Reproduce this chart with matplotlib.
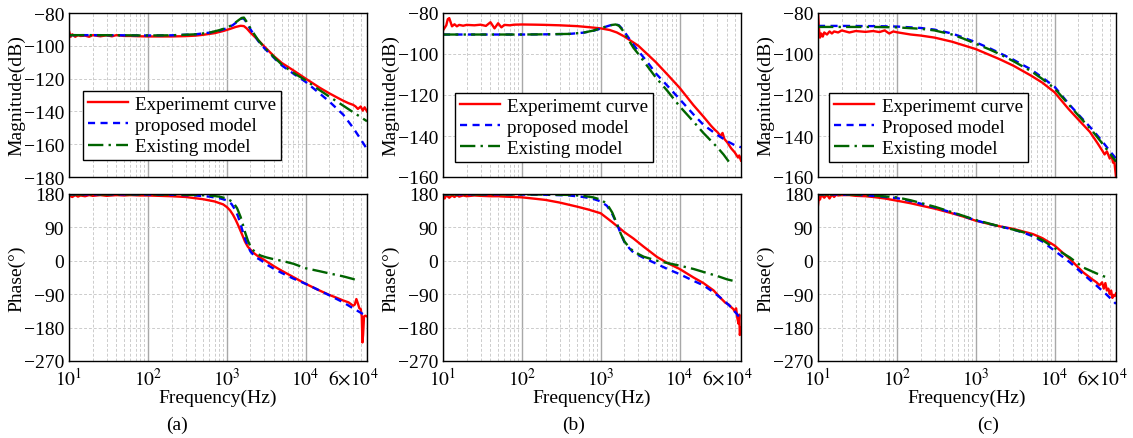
import numpy as np
import matplotlib
matplotlib.use('Agg')
import matplotlib.pyplot as plt
from matplotlib.ticker import FixedLocator, FixedFormatter, LogLocator, NullFormatter
import matplotlib.transforms as mtrans

plt.rcParams['font.family'] = ['Liberation Serif', 'DejaVu Serif']
plt.rcParams['mathtext.fontset'] = 'stix'
plt.rcParams['font.size'] = 14

# ---------------- panel (a) ----------------
fa_exp_mag = [10, 10.5, 11, 12, 13, 14, 16, 18, 20, 25, 30, 35, 40, 50, 60, 80, 100, 150, 200, 300,
              400, 500, 700, 900, 1100, 1300, 1500, 1650, 1800, 2000, 2500, 3000, 4000, 5000, 7000,
              10000, 15000, 20000, 25000, 30000, 35000, 40000, 43000, 46000, 50000, 53000, 56000, 60000]
a_exp_mag = [-91, -94.5, -93, -94.5, -93.5, -94, -93.8, -94.5, -93.5, -94.2, -93.6, -94.2, -93.5, -94,
             -94, -94.2, -94.3, -94.3, -94.3, -94.1, -93.8, -93.3, -92.3, -91, -89.7, -88.5, -87.8,
             -88, -89.5, -92, -96.5, -100.5, -106.5, -110.5, -115, -120, -125.5, -129, -131.5,
             -133.5, -135, -136, -137, -138.5, -137, -139.5, -137.5, -140]
fa_mod_mag = [10, 20, 50, 100, 200, 400, 600, 800, 1000, 1200, 1400, 1550, 1650, 1800, 2000, 2500,
              3000, 4000, 5000, 7000, 10000, 15000, 20000, 30000, 40000, 50000, 60000]
a_prop_mag = [-93.5, -93.5, -93.6, -93.7, -93.6, -93, -92, -90.8, -89.3, -87.3, -84.8, -83.3, -83.5,
              -86, -90, -97, -101.5, -107.5, -112, -117, -122, -129, -134, -142, -150, -157, -163]
a_exist_mag = [-93.5, -93.5, -93.6, -93.7, -93.6, -93, -92, -90.5, -89, -87, -84.5, -83, -82.8,
               -85.5, -89.5, -96.5, -101, -107, -111.5, -116.5, -121, -127, -131, -136.5, -140.5,
               -143.5, -146]

fa_exp_ph = [10, 11, 12, 13, 14, 16, 18, 20, 25, 30, 40, 50, 60, 80, 100, 200, 300, 500, 700, 900,
             1000, 1100, 1200, 1300, 1400, 1500, 1600, 1700, 1850, 2000, 2200, 2500, 3000, 4000,
             5000, 7000, 10000, 15000, 20000, 25000, 30000, 35000, 40000, 42000, 44000, 46000,
             48000, 50000, 51500, 52500, 53500, 55000, 57000, 60000]
a_exp_ph = [176, 172, 177, 173, 176, 174, 177, 175, 177, 175, 177, 176, 177, 176, 176, 174, 172, 166,
            160, 152, 145, 136, 124, 110, 95, 80, 66, 52, 38, 30, 21, 12, 2, -15, -27, -44, -62, -80,
            -92, -100, -107, -112, -121, -118, -103, -115, -128, -130, -150, -220, -200, -150, -148,
            -150]
fa_prop_ph = [10, 50, 100, 200, 400, 600, 800, 1000, 1150, 1300, 1400, 1500, 1600, 1700, 1850, 2000,
              2300, 2700, 3200, 4000, 5000, 7000, 10000, 15000, 20000, 30000, 40000, 50000, 60000]
a_prop_ph = [179, 179, 178.5, 178, 176, 173, 169, 163, 153, 135, 118, 98, 78, 60, 40, 25, 10, 2,
             -10, -22, -33, -48, -62, -80, -93, -112, -128, -140, -150]
fa_exist_ph = [10, 50, 100, 200, 400, 600, 800, 1000, 1200, 1350, 1500, 1600, 1700, 1850, 2000,
               2300, 2700, 3200, 4000, 5000, 7000, 10000, 15000, 20000, 30000, 40000, 46000]
a_exist_ph = [179, 179, 179, 178.5, 177.5, 176, 173, 168, 158, 142, 118, 98, 78, 55, 38, 22, 14, 9,
              4, 0, -8, -20, -28, -34, -42, -49, -54]

# ---------------- panel (b) ----------------
fb_exp_mag = [10, 11, 11.5, 12, 12.5, 13, 14, 15, 16, 18, 20, 25, 30, 35, 40, 45, 50, 55, 60, 70,
              80, 100, 150, 200, 300, 500, 700, 1000, 1300, 1600, 2000, 2500, 3000, 4000, 5000,
              7000, 10000, 15000, 20000, 25000, 28000, 30000, 33000, 35000, 37000, 40000, 45000,
              50000, 55000, 57000, 60000]
b_exp_mag = [-88.5, -86, -83, -82.5, -84.5, -86.5, -85.5, -86.5, -85.8, -86.2, -85.8, -86, -85.7,
             -86.3, -84.5, -87.5, -85, -87, -85.8, -86, -85.7, -85.6, -85.7, -85.8, -86, -86.4,
             -86.9, -87.5, -88.3, -89.5, -91.5, -94, -96, -100.5, -104, -110, -116.5, -125,
             -130.5, -135, -137, -138, -140, -138.5, -141.5, -143, -146, -148, -150.5, -149.5,
             -152]
fb_prop_mag = [10, 50, 100, 200, 400, 600, 800, 1000, 1200, 1400, 1550, 1700, 1900, 2200, 2600,
               3000, 4000, 5000, 7000, 10000, 15000, 20000, 30000, 40000, 50000, 60000]
b_prop_mag = [-90.5, -90.5, -90.5, -90.4, -90.2, -89.6, -88.7, -87.6, -86.5, -85.7, -85.5, -86,
              -88, -91.5, -95.5, -98.5, -104.5, -109.5, -115.5, -122, -129.5, -134.5, -139.5,
              -142.5, -144.5, -145.5]
fb_exist_mag = [10, 50, 100, 200, 400, 600, 800, 1000, 1200, 1400, 1550, 1700, 1900, 2200, 2600,
                3000, 4000, 5000, 7000, 10000, 15000, 20000, 30000, 36000, 42000]
b_exist_mag = [-90.5, -90.5, -90.5, -90.4, -90.2, -89.6, -88.6, -87.5, -86.4, -85.8, -85.6, -86.2,
               -88.5, -92.5, -97, -100, -106.5, -111.5, -118, -125.5, -133, -138.5, -145.5, -149,
               -152.5]

fb_exp_ph = [10, 10.5, 11, 12, 13, 14, 15, 16, 18, 20, 25, 30, 40, 50, 60, 80, 100, 150, 200, 300,
             500, 700, 1000, 1400, 2000, 2600, 3500, 5200, 7000, 10000, 15000, 20000, 27000, 33000,
             38000, 42000, 45000, 48000, 50000, 52000, 54000, 56000, 57000, 58000, 59000, 60000]
b_exp_ph = [176, 168, 177, 170, 176, 172, 177, 173, 176, 174, 176, 175, 174, 174, 173, 172, 171, 167,
            164, 157, 146, 138, 128, 104, 77, 60, 38, 10, -6, -22, -45, -60, -80, -100, -113, -118,
            -125, -130, -137, -128, -155, -170, -145, -200, -190, -180]
fb_prop_ph = [10, 50, 100, 200, 400, 600, 800, 1000, 1200, 1400, 1600, 1800, 2000, 2300, 2600, 3500,
              5200, 7000, 10000, 15000, 20000, 27000, 35000, 45000, 60000]
b_prop_ph = [179, 179, 178.5, 178, 176, 172, 167, 160, 148, 126, 100, 72, 50, 34, 22, 8, -9, -22,
             -36, -54, -66, -85, -104, -125, -157]
fb_exist_ph = [10, 50, 100, 200, 400, 600, 800, 1000, 1200, 1400, 1600, 1800, 2000, 2300, 2600,
               3500, 5200, 7000, 10000, 15000, 20000, 30000, 40000, 52000]
b_exist_ph = [179, 179, 179, 178.5, 177.5, 175, 171, 165, 153, 130, 100, 72, 52, 36, 25, 11, 0, -6,
              -13, -22, -30, -41, -50, -56]

# ---------------- panel (c) ----------------
fc_exp_mag = [10, 10.3, 10.6, 11, 11.5, 12, 13, 14, 15, 16, 18, 20, 25, 30, 40, 50, 60, 70, 80, 90,
              100, 150, 200, 300, 500, 1000, 2000, 3000, 5000, 7000, 10000, 15000, 20000, 28000,
              35000, 40000, 43000, 46000, 50000, 53000, 55000, 57000, 58500, 60000]
c_exp_mag = [-80, -88, -92, -90, -91.5, -89.5, -90.5, -89, -90, -89, -89.5, -88.5, -89.5, -88.8,
             -89.2, -88.8, -89.3, -88.5, -90, -89, -89.4, -90.5, -91, -92, -94, -97.6, -102.5,
             -105.7, -110.5, -114, -118.7, -126.8, -132, -138, -143.5, -147, -149, -147.5, -151,
             -150, -153, -152, -156, -160]
fc_mod_mag = [10, 20, 50, 100, 200, 300, 500, 700, 1000, 1500, 2000, 3000, 5000, 7000, 10000, 15000,
              20000, 30000, 40000, 50000, 60000]
c_prop_mag = [-86.3, -86.3, -86.4, -86.6, -87.3, -88.1, -90, -92, -94.3, -97.2, -99.5, -102.8,
              -107.5, -111.5, -116, -124.2, -129.5, -136.8, -142.5, -147.3, -151]
c_exist_mag = [-86.8, -86.8, -86.8, -87, -87.7, -88.5, -90.5, -92.5, -95, -97.8, -100, -103.5,
               -108.3, -112.2, -116.8, -124.5, -130, -137.5, -143.5, -148.5, -152.5]

fc_exp_ph = [10, 10.3, 10.6, 11, 12, 13, 14, 15, 16, 17, 18, 20, 25, 30, 40, 50, 70, 100, 150, 200,
             310, 500, 700, 1000, 1500, 2000, 3000, 5300, 7000, 10000, 15600, 23000, 30000, 34000,
             37000, 40000, 42000, 44000, 46000, 48000, 50000, 52000, 54000, 56000, 58000, 60000]
c_exp_ph = [150, 175, 165, 178, 170, 178, 168, 178, 172, 178, 176, 177, 177, 175, 174, 172, 168, 162,
            155, 149, 140, 128, 119, 108, 99, 93, 86, 72, 61, 41, 5, -31, -50, -58, -66, -58, -75,
            -60, -80, -75, -90, -80, -100, -92, -95, -88]
fc_prop_ph = [10, 20, 30, 50, 100, 150, 200, 310, 500, 700, 1000, 1500, 2000, 3000, 4000, 5300,
              7000, 10000, 15600, 23000, 34000, 45000, 60000]
c_prop_ph = [179, 178.5, 178, 175, 169, 161, 154, 143, 130, 120, 109, 99, 93, 84, 76, 66, 52, 27,
             -4, -36, -67, -90, -116]
fc_exist_ph = [10, 20, 30, 50, 100, 150, 200, 310, 500, 700, 1000, 1500, 2000, 3000, 4000, 5300,
               7000, 10000, 15600, 23000, 34000, 44600]
c_exist_ph = [179, 179, 178.5, 176, 171, 163, 156, 145, 131, 121, 110, 100, 93, 84, 77, 68, 56, 34,
              9, -18, -34, -44]

xticks = [10, 100, 1000, 10000, 60000]
xticklabels = ['$10^1$', '$10^2$', '$10^3$', '$10^4$', r'$6{\times}10^4$']
phase_ticks = [-270, -180, -90, 0, 90, 180]

panels = [
    dict(tag='(a)', left=69, mag_lim=(-180, -80), prop='proposed model', leg=(0.047, 0.104),
         mag=[(fa_exp_mag, a_exp_mag), (fa_mod_mag, a_prop_mag), (fa_mod_mag, a_exist_mag)],
         ph=[(fa_exp_ph, a_exp_ph), (fa_prop_ph, a_prop_ph), (fa_exist_ph, a_exist_ph)], tagx=177),
    dict(tag='(b)', left=443, mag_lim=(-160, -80), prop='proposed model', leg=(0.040, 0.093),
         mag=[(fb_exp_mag, b_exp_mag), (fb_prop_mag, b_prop_mag), (fb_exist_mag, b_exist_mag)],
         ph=[(fb_exp_ph, b_exp_ph), (fb_prop_ph, b_prop_ph), (fb_exist_ph, b_exist_ph)], tagx=574),
    dict(tag='(c)', left=818, mag_lim=(-160, -80), prop='Proposed model', leg=(0.038, 0.093),
         mag=[(fc_exp_mag, c_exp_mag), (fc_mod_mag, c_prop_mag), (fc_mod_mag, c_exist_mag)],
         ph=[(fc_exp_ph, c_exp_ph), (fc_prop_ph, c_prop_ph), (fc_exist_ph, c_exist_ph)], tagx=988),
]

W, H = 1133, 439
fig = plt.figure(figsize=(W / 100, H / 100), dpi=100)

styles = [dict(color='#ff0000', linestyle='-', linewidth=1.7),
          dict(color='#0000ff', linestyle=(0, (3, 2.3)), linewidth=1.7),
          dict(color='#006400', linestyle=(0, (6.5, 2.2, 1, 2.2)), linewidth=1.7)]


def style_axes(ax):
    ax.set_xscale('log')
    ax.set_xlim(10, 60000)
    ax.xaxis.set_major_locator(FixedLocator(xticks[:-1]))
    ax.xaxis.set_minor_locator(LogLocator(base=10, subs=np.arange(2, 10), numticks=20))
    ax.xaxis.set_minor_formatter(NullFormatter())
    ax.grid(which='major', axis='x', color='#a8a8a8', linestyle='-', linewidth=1.0)
    ax.grid(which='minor', axis='x', color='#cccccc', linestyle=(0, (3, 2)), linewidth=0.7)
    ax.grid(which='major', axis='y', color='#cccccc', linestyle=(0, (3, 2)), linewidth=0.7)
    ax.tick_params(which='both', length=0)
    ax.tick_params(axis='y', pad=3.5)
    ax.tick_params(axis='x', pad=4)
    for s in ax.spines.values():
        s.set_linewidth(1.0)
        s.set_color('black')
    ax.set_axisbelow(True)


for p in panels:
    x0 = p['left'] / W
    w = 298 / W
    ax_m = fig.add_axes([x0, 1 - 178 / H, w, 164 / H])
    ax_p = fig.add_axes([x0, 1 - 362 / H, w, 167 / H])
    labels = ['Experimemt curve', p['prop'], 'Existing model']
    for (f, v), st, lab in zip(p['mag'], styles, labels):
        ax_m.plot(f, v, label=lab, **st)
    for (f, v), st in zip(p['ph'], styles):
        ax_p.plot(f, v, **st)
    style_axes(ax_m)
    style_axes(ax_p)
    ax_m.set_ylim(*p['mag_lim'])
    ax_m.set_yticks(np.arange(p['mag_lim'][0], p['mag_lim'][1] + 1, 20))
    ax_m.set_xticklabels([])
    ax_m.set_ylabel('Magnitude(dB)', labelpad=-1)
    ax_p.set_ylim(-270, 180)
    ax_p.set_yticks(phase_ticks)
    ax_p.set_ylabel('Phase(°)', labelpad=-1)
    ax_p.xaxis.set_major_locator(FixedLocator(xticks))
    ax_p.xaxis.set_major_formatter(FixedFormatter(xticklabels))
    lbls = ax_p.get_xticklabels()
    lbls[-1].set_transform(lbls[-1].get_transform() +
                           mtrans.ScaledTranslation(-0.14, 0, fig.dpi_scale_trans))
    ax_p.set_xlabel('Frequency(Hz)', labelpad=0)
    leg = ax_m.legend(loc='lower left', bbox_to_anchor=p['leg'], borderaxespad=0,
                      fancybox=False, framealpha=1, edgecolor='black', handlelength=2.1,
                      labelspacing=0.2, borderpad=0.25, handletextpad=0.4, fontsize=13.7)
    leg.get_frame().set_linewidth(1.0)
    fig.text(p['tagx'] / W, 1 - 425 / H, p['tag'], ha='center', va='center')

fig.savefig('out.png', dpi=100)
